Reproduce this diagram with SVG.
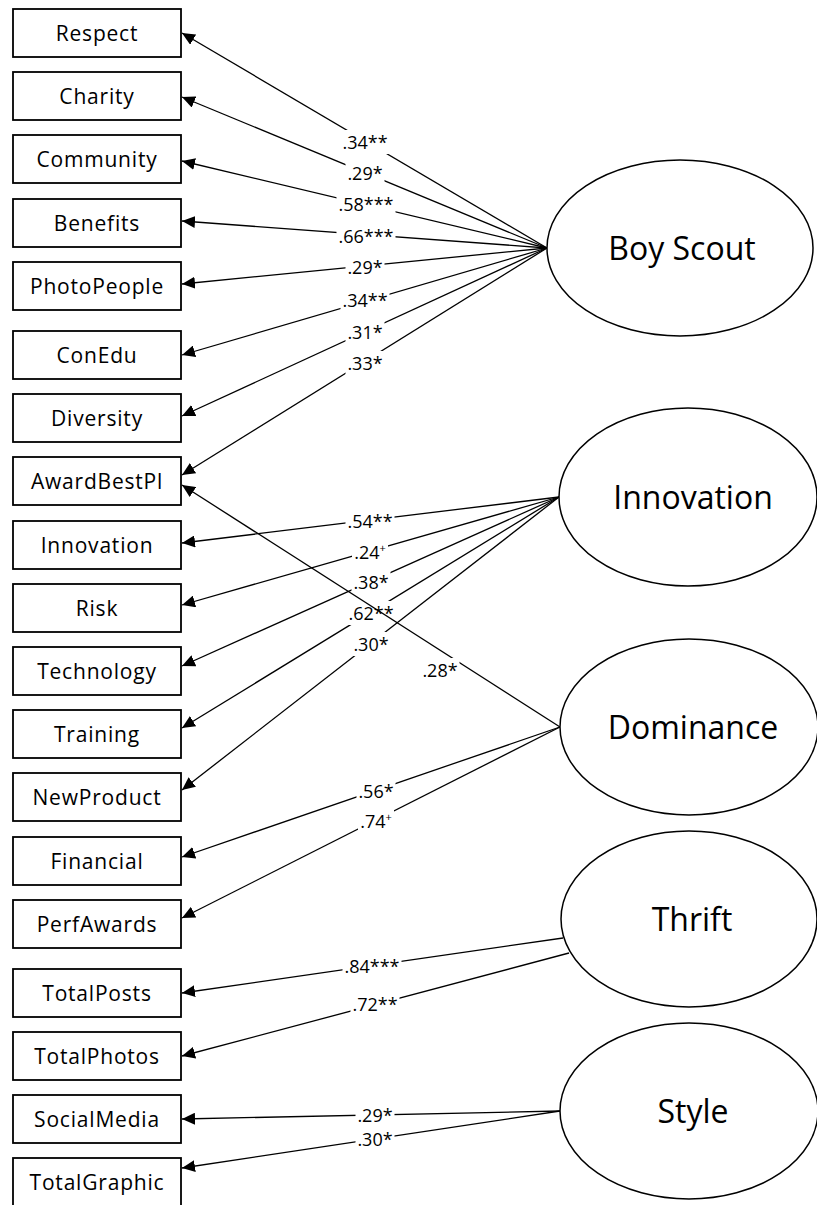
<svg xmlns="http://www.w3.org/2000/svg" width="817" height="1205" viewBox="0 0 817 1205">
<defs>
<style>
.box{fill:#fff;stroke:#000;stroke-width:1.8}
.ell{fill:#fff;stroke:#000;stroke-width:1.5}
.bt{font-family:"Open Sans","Liberation Sans",sans-serif;font-size:21px;letter-spacing:0.8px;text-anchor:middle;fill:#000}
.et{font-family:"Open Sans","Liberation Sans",sans-serif;font-size:32px;text-anchor:middle;fill:#000}
.ln{stroke:#000;stroke-width:1.3;fill:none;marker-end:url(#ah)}
.lb{fill:#fff}
.lt{font-family:"Open Sans","Liberation Sans",sans-serif;font-size:18px;text-anchor:middle;fill:#000}
.sup{font-size:11px}
</style>
<marker id="ah" markerUnits="userSpaceOnUse" markerWidth="13" markerHeight="12" refX="13" refY="6" orient="auto">
<path d="M0,0 L13,6 L0,12 z" fill="#000"/>
</marker>
</defs>
<rect width="817" height="1205" fill="#fff"/>

<g id="connectors">
<line class="ln" x1="547" y1="248" x2="182" y2="33"/>
<rect class="lb" x="340.5" y="130" width="49" height="24"/><text class="lt" x="365" y="148.5">.34**</text>
<line class="ln" x1="547" y1="248" x2="182" y2="97"/>
<rect class="lb" x="345.5" y="161" width="39" height="24"/><text class="lt" x="365" y="179.5">.29*</text>
<line class="ln" x1="547" y1="248" x2="182" y2="161"/>
<rect class="lb" x="336.5" y="192" width="59" height="24"/><text class="lt" x="366" y="210.5">.58***</text>
<line class="ln" x1="547" y1="248" x2="182" y2="221"/>
<rect class="lb" x="336.5" y="224" width="59" height="24"/><text class="lt" x="366" y="242.5">.66***</text>
<line class="ln" x1="547" y1="248" x2="182" y2="284"/>
<rect class="lb" x="345.5" y="255" width="39" height="24"/><text class="lt" x="365" y="273.5">.29*</text>
<line class="ln" x1="547" y1="248" x2="182" y2="355"/>
<rect class="lb" x="340.5" y="288" width="49" height="24"/><text class="lt" x="365" y="306.5">.34**</text>
<line class="ln" x1="547" y1="248" x2="182" y2="416"/>
<rect class="lb" x="345.5" y="320" width="39" height="24"/><text class="lt" x="365" y="338.5">.31*</text>
<line class="ln" x1="547" y1="248" x2="182" y2="475"/>
<rect class="lb" x="345.5" y="351" width="39" height="24"/><text class="lt" x="365" y="369.5">.33*</text>

<line class="ln" x1="559" y1="497" x2="182" y2="543"/>
<rect class="lb" x="345.5" y="509" width="49" height="24"/><text class="lt" x="370" y="527.5">.54**</text>
<line class="ln" x1="559" y1="497" x2="182" y2="605"/>
<rect class="lb" x="352" y="540" width="36" height="24"/><text class="lt" x="370" y="558.5">.24<tspan class="sup" dy="-7">+</tspan></text>
<line class="ln" x1="559" y1="497" x2="182" y2="666"/>
<rect class="lb" x="351.5" y="570" width="39" height="24"/><text class="lt" x="371" y="588.5">.38*</text>
<line class="ln" x1="559" y1="497" x2="182" y2="728"/>
<rect class="lb" x="346.5" y="601" width="49" height="24"/><text class="lt" x="371" y="619.5">.62**</text>
<line class="ln" x1="559" y1="497" x2="182" y2="790"/>
<rect class="lb" x="351.5" y="632" width="39" height="24"/><text class="lt" x="371" y="650.5">.30*</text>

<line class="ln" x1="560" y1="727" x2="182" y2="485"/>
<rect class="lb" x="420.5" y="658" width="39" height="24"/><text class="lt" x="440" y="676.5">.28*</text>
<line class="ln" x1="560" y1="727" x2="182" y2="857"/>
<rect class="lb" x="356.5" y="779" width="39" height="24"/><text class="lt" x="376" y="797.5">.56*</text>
<line class="ln" x1="560" y1="727" x2="182" y2="918"/>
<rect class="lb" x="358" y="809" width="36" height="24"/><text class="lt" x="376" y="827.5">.74<tspan class="sup" dy="-7">+</tspan></text>

<line class="ln" x1="563" y1="938" x2="182" y2="993"/>
<rect class="lb" x="342.5" y="954" width="59" height="24"/><text class="lt" x="372" y="972.5">.84***</text>
<line class="ln" x1="569" y1="953" x2="182" y2="1056"/>
<rect class="lb" x="350.5" y="992" width="49" height="24"/><text class="lt" x="375" y="1010.5">.72**</text>

<line class="ln" x1="560" y1="1111" x2="182" y2="1119"/>
<rect class="lb" x="355.5" y="1103" width="39" height="24"/><text class="lt" x="375" y="1121.5">.29*</text>
<line class="ln" x1="560" y1="1111" x2="182" y2="1168"/>
<rect class="lb" x="355.5" y="1127" width="39" height="24"/><text class="lt" x="375" y="1145.5">.30*</text>
</g>

<g id="n-respect"><rect class="box" x="13" y="9" width="168" height="48"/><text class="bt" x="97" y="41">Respect</text></g>
<g id="n-charity"><rect class="box" x="13" y="72" width="168" height="48"/><text class="bt" x="97" y="104">Charity</text></g>
<g id="n-community"><rect class="box" x="13" y="135" width="168" height="48"/><text class="bt" x="97" y="167">Community</text></g>
<g id="n-benefits"><rect class="box" x="13" y="199" width="168" height="48"/><text class="bt" x="97" y="231">Benefits</text></g>
<g id="n-photopeople"><rect class="box" x="13" y="262" width="168" height="48"/><text class="bt" x="97" y="294">PhotoPeople</text></g>
<g id="n-conedu"><rect class="box" x="13" y="331" width="168" height="48"/><text class="bt" x="97" y="363">ConEdu</text></g>
<g id="n-diversity"><rect class="box" x="13" y="394" width="168" height="48"/><text class="bt" x="97" y="426">Diversity</text></g>
<g id="n-awardbestpl"><rect class="box" x="13" y="457" width="168" height="48"/><text class="bt" x="97" y="489">AwardBestPl</text></g>
<g id="n-innovation-item"><rect class="box" x="13" y="521" width="168" height="48"/><text class="bt" x="97" y="553">Innovation</text></g>
<g id="n-risk"><rect class="box" x="13" y="584" width="168" height="48"/><text class="bt" x="97" y="616">Risk</text></g>
<g id="n-technology"><rect class="box" x="13" y="647" width="168" height="48"/><text class="bt" x="97" y="679">Technology</text></g>
<g id="n-training"><rect class="box" x="13" y="710" width="168" height="48"/><text class="bt" x="97" y="742">Training</text></g>
<g id="n-newproduct"><rect class="box" x="13" y="773" width="168" height="48"/><text class="bt" x="97" y="805">NewProduct</text></g>
<g id="n-financial"><rect class="box" x="13" y="837" width="168" height="48"/><text class="bt" x="97" y="869">Financial</text></g>
<g id="n-perfawards"><rect class="box" x="13" y="900" width="168" height="48"/><text class="bt" x="97" y="932">PerfAwards</text></g>
<g id="n-totalposts"><rect class="box" x="13" y="969" width="168" height="48"/><text class="bt" x="97" y="1001">TotalPosts</text></g>
<g id="n-totalphotos"><rect class="box" x="13" y="1032" width="168" height="48"/><text class="bt" x="97" y="1064">TotalPhotos</text></g>
<g id="n-socialmedia"><rect class="box" x="13" y="1095" width="168" height="48"/><text class="bt" x="97" y="1127">SocialMedia</text></g>
<g id="n-totalgraphic"><rect class="box" x="13" y="1158" width="168" height="48"/><text class="bt" x="97" y="1190">TotalGraphic</text></g>

<g id="f-boyscout"><ellipse class="ell" cx="680" cy="248" rx="133" ry="88"/><text class="et" x="682" y="260">Boy Scout</text></g>
<g id="f-innovation"><ellipse class="ell" cx="688" cy="497" rx="129" ry="89"/><text class="et" x="693" y="509">Innovation</text></g>
<g id="f-dominance"><ellipse class="ell" cx="689" cy="727" rx="129" ry="88"/><text class="et" x="693" y="739">Dominance</text></g>
<g id="f-thrift"><ellipse class="ell" cx="689" cy="919" rx="128" ry="88"/><text class="et" x="692" y="931">Thrift</text></g>
<g id="f-style"><ellipse class="ell" cx="689" cy="1111" rx="129" ry="88"/><text class="et" x="693" y="1123">Style</text></g>
</svg>
